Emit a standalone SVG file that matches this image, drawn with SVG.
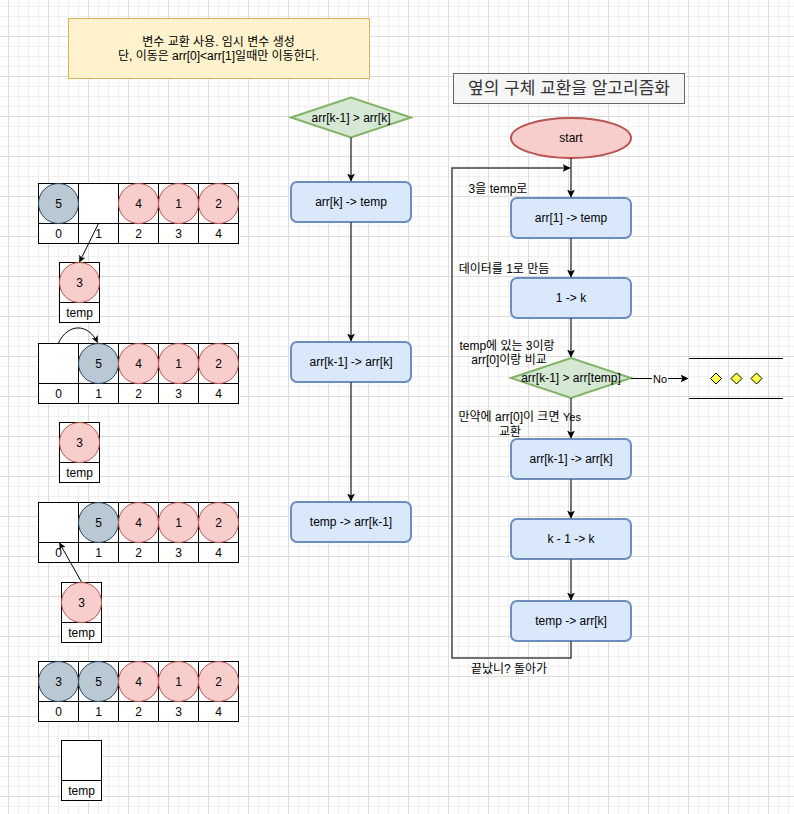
<svg xmlns="http://www.w3.org/2000/svg" width="794" height="814" viewBox="0 0 794 814">
<defs>
<pattern id="grid" x="8" y="-4" width="40" height="40" patternUnits="userSpaceOnUse">
<rect width="40" height="40" fill="#ffffff"/>
<g fill="#f0f0f0">
<rect x="10" y="0" width="1" height="40"/><rect x="20" y="0" width="1" height="40"/><rect x="30" y="0" width="1" height="40"/>
<rect x="0" y="10" width="40" height="1"/><rect x="0" y="20" width="40" height="1"/><rect x="0" y="30" width="40" height="1"/>
</g>
<g fill="#dcdcdc"><rect x="0" y="0" width="1" height="40"/><rect x="0" y="0" width="40" height="1"/></g>
</pattern>
<marker id="ah" viewBox="0 0 8 8" refX="7.5" refY="4" markerWidth="8" markerHeight="8" markerUnits="userSpaceOnUse" orient="auto">
<path d="M0,0 L8,4 L0,8 L2,4 Z" fill="#000"/>
</marker>
<marker id="ahs" viewBox="0 0 8 8" refX="7.5" refY="4" markerWidth="7" markerHeight="7" markerUnits="userSpaceOnUse" orient="auto">
<path d="M0,0 L8,4 L0,8 L2,4 Z" fill="#000"/>
</marker>
</defs>
<style>
text{font-family:"Liberation Sans","Noto Sans CJK KR",sans-serif;font-size:12px;fill:#000;text-anchor:middle}
.lbl{font-size:11px}
.proc{fill:#dae8fc;stroke:#6c8ebf;stroke-width:2}
.dec{fill:#d5e8d4;stroke:#82b366;stroke-width:2}
.cell{fill:#ffffff;stroke:#000;stroke-width:1}
.ln{fill:none;stroke:#000;stroke-width:1}
.red{fill:#f8cecc;stroke:#b85450;stroke-width:1}
.gray{fill:#bac8d3;stroke:#23445d;stroke-width:1}
.edge{fill:none;stroke:#444;stroke-width:1.5}
.thin{fill:none;stroke:#000;stroke-width:1}
</style>
<rect x="0" y="0" width="794" height="814" fill="url(#grid)"/>

<g id="note">
<rect x="68.5" y="18.5" width="301" height="60" fill="#fff2cc" stroke="#d6b656" stroke-width="1"/>
<text x="218.5" y="46">변수 교환 사용. 임시 변수 생성</text>
<text x="218.5" y="60">단, 이동은 arr[0]&lt;arr[1]일때만 이동한다.</text>
</g>

<g id="title">
<rect x="453.5" y="73.5" width="231" height="30" fill="#f5f5f5" stroke="#666666" stroke-width="1"/>
<text x="569" y="94" style="font-size:17px;fill:#333333">옆의 구체 교환을 알고리즘화</text>
</g>

<g transform="translate(0.5,0.5)">
<g id="array1">
<rect class="cell" x="38" y="183" width="200" height="60"/>
<path class="ln" d="M38,223 H238 M78,183 V243 M118,183 V243 M158,183 V243 M198,183 V243"/>
<circle class="gray" cx="58" cy="203" r="20"/>
<circle class="red" cx="138" cy="203" r="20"/>
<circle class="red" cx="178" cy="203" r="20"/>
<circle class="red" cx="218" cy="203" r="20"/>
<text x="58" y="207">5</text><text x="138" y="207">4</text><text x="178" y="207">1</text><text x="218" y="207">2</text>
<text x="58" y="237">0</text><text x="98" y="237">1</text><text x="138" y="237">2</text><text x="178" y="237">3</text><text x="218" y="237">4</text>
</g>
<g id="temp1">
<rect class="cell" x="59" y="262" width="40" height="60"/>
<path class="ln" d="M59,302 H99"/>
<circle class="red" cx="79" cy="282" r="20"/>
<text x="79" y="286">3</text>
<text x="79" y="316">temp</text>
</g>
<g id="array2">
<rect class="cell" x="38" y="343" width="200" height="60"/>
<path class="ln" d="M38,383 H238 M78,343 V403 M118,343 V403 M158,343 V403 M198,343 V403"/>
<circle class="gray" cx="98" cy="363" r="20"/>
<circle class="red" cx="138" cy="363" r="20"/>
<circle class="red" cx="178" cy="363" r="20"/>
<circle class="red" cx="218" cy="363" r="20"/>
<text x="98" y="367">5</text><text x="138" y="367">4</text><text x="178" y="367">1</text><text x="218" y="367">2</text>
<text x="58" y="397">0</text><text x="98" y="397">1</text><text x="138" y="397">2</text><text x="178" y="397">3</text><text x="218" y="397">4</text>
</g>
<g id="temp2">
<rect class="cell" x="59" y="422" width="40" height="60"/>
<path class="ln" d="M59,462 H99"/>
<circle class="red" cx="79" cy="442" r="20"/>
<text x="79" y="446">3</text>
<text x="79" y="476">temp</text>
</g>
<g id="array3">
<rect class="cell" x="38" y="502" width="200" height="60"/>
<path class="ln" d="M38,542 H238 M78,502 V562 M118,502 V562 M158,502 V562 M198,502 V562"/>
<circle class="gray" cx="98" cy="522" r="20"/>
<circle class="red" cx="138" cy="522" r="20"/>
<circle class="red" cx="178" cy="522" r="20"/>
<circle class="red" cx="218" cy="522" r="20"/>
<text x="98" y="526">5</text><text x="138" y="526">4</text><text x="178" y="526">1</text><text x="218" y="526">2</text>
<text x="58" y="556">0</text><text x="98" y="556">1</text><text x="138" y="556">2</text><text x="178" y="556">3</text><text x="218" y="556">4</text>
</g>
<g id="temp3">
<rect class="cell" x="61" y="582" width="40" height="60"/>
<path class="ln" d="M61,622 H101"/>
<circle class="red" cx="81" cy="602" r="20"/>
<text x="81" y="606">3</text>
<text x="81" y="636">temp</text>
</g>
<g id="array4">
<rect class="cell" x="38" y="661" width="200" height="60"/>
<path class="ln" d="M38,701 H238 M78,661 V721 M118,661 V721 M158,661 V721 M198,661 V721"/>
<circle class="gray" cx="58" cy="681" r="20"/>
<circle class="gray" cx="98" cy="681" r="20"/>
<circle class="red" cx="138" cy="681" r="20"/>
<circle class="red" cx="178" cy="681" r="20"/>
<circle class="red" cx="218" cy="681" r="20"/>
<text x="58" y="685">3</text><text x="98" y="685">5</text><text x="138" y="685">4</text><text x="178" y="685">1</text><text x="218" y="685">2</text>
<text x="58" y="715">0</text><text x="98" y="715">1</text><text x="138" y="715">2</text><text x="178" y="715">3</text><text x="218" y="715">4</text>
</g>
<g id="temp4">
<rect class="cell" x="61" y="740" width="40" height="60"/>
<path class="ln" d="M61,780 H101"/>
<text x="81" y="794">temp</text>
</g>
</g>

<g id="mid-decision">
<polygon class="dec" points="291,117.5 351,97.5 411,117.5 351,137.5"/>
<text x="351" y="121.5">arr[k-1] &gt; arr[k]</text>
</g>
<g id="mid-step1">
<rect class="proc" x="291" y="182" width="120" height="40" rx="6"/>
<text x="351" y="206">arr[k] -&gt; temp</text>
</g>
<g id="mid-step2">
<rect class="proc" x="291" y="342" width="120" height="40" rx="6"/>
<text x="351" y="366">arr[k-1] -&gt; arr[k]</text>
</g>
<g id="mid-step3">
<rect class="proc" x="291" y="502" width="120" height="40" rx="6"/>
<text x="351" y="526">temp -&gt; arr[k-1]</text>
</g>

<g id="start">
<ellipse cx="571" cy="138" rx="60" ry="20" fill="#f8cecc" stroke="#b85450" stroke-width="2"/>
<text x="571" y="142">start</text>
</g>
<g id="r-step1">
<rect class="proc" x="511" y="198" width="120" height="40" rx="6"/>
<text x="571" y="222">arr[1] -&gt; temp</text>
</g>
<g id="r-step2">
<rect class="proc" x="511" y="278" width="120" height="40" rx="6"/>
<text x="571" y="302">1 -&gt; k</text>
</g>
<g id="r-decision">
<polygon class="dec" points="511,378 571,358 631,378 571,398"/>
<text x="571" y="382">arr[k-1] &gt; arr[temp]</text>
</g>
<g id="r-step3">
<rect class="proc" x="511" y="439" width="120" height="40" rx="6"/>
<text x="571" y="463">arr[k-1] -&gt; arr[k]</text>
</g>
<g id="r-step4">
<rect class="proc" x="511" y="519" width="120" height="40" rx="6"/>
<text x="571" y="543">k - 1 -&gt; k</text>
</g>
<g id="r-step5">
<rect class="proc" x="511" y="601" width="120" height="40" rx="6"/>
<text x="571" y="625">temp -&gt; arr[k]</text>
</g>
<g id="r-etc">
<path class="thin" d="M689,358.5 H783 M689,398.5 H783"/>
<polygon points="716,373 721.5,378.5 716,384 710.5,378.5" fill="#ffff44" stroke="#000" stroke-width="1"/>
<polygon points="736.5,373 742,378.5 736.5,384 731,378.5" fill="#ffff44" stroke="#000" stroke-width="1"/>
<polygon points="756.5,373 762,378.5 756.5,384 751,378.5" fill="#ffff44" stroke="#000" stroke-width="1"/>
</g>

<g id="annotations">
<text x="498" y="193">3을 temp로</text>
<text x="504" y="273">데이터를 1로 만듬</text>
<text x="507" y="350">temp에 있는 3이랑</text>
<text x="509" y="364">arr[0]이랑 비교</text>
<text x="509" y="421">만약에 arr[0]이 크면</text>
<text x="510" y="436">교환</text>
<text x="509" y="673">끝났니? 돌아가</text>
</g>

<g id="connectors">
<path class="thin" d="M98.5,223.5 L79.5,262" marker-end="url(#ahs)"/>
<path class="thin" d="M58.5,343 C68,323 88,323 97.5,342.5" marker-end="url(#ahs)"/>
<path class="thin" d="M81.5,582 L59.5,543" marker-end="url(#ahs)"/>
<path class="edge" d="M351,137.5 V181" marker-end="url(#ah)"/>
<path class="edge" d="M351,222 V341" marker-end="url(#ah)"/>
<path class="edge" d="M351,382 V501" marker-end="url(#ah)"/>
<path class="edge" d="M571,158 V197" marker-end="url(#ah)"/>
<path class="edge" d="M571,238 V277" marker-end="url(#ah)"/>
<path class="edge" d="M571,318 V357" marker-end="url(#ah)"/>
<path class="edge" d="M571,398 V438" marker-end="url(#ah)"/>
<path class="edge" d="M571,479 V518" marker-end="url(#ah)"/>
<path class="edge" d="M571,559 V600" marker-end="url(#ah)"/>
<path class="edge" d="M571,641 V658 H452 V168 H570" marker-end="url(#ah)"/>
<path class="thin" d="M631,378.5 H688" marker-end="url(#ah)"/>
<rect x="652" y="371" width="16" height="14" fill="#ffffff"/>
<text class="lbl" x="660" y="382.5">No</text>
<text class="lbl" x="572" y="421">Yes</text>
</g>
</svg>
